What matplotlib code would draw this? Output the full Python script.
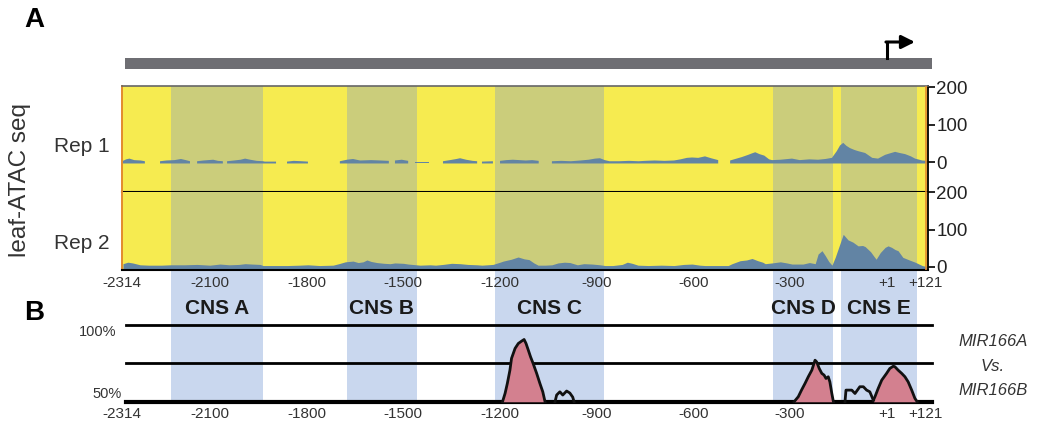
import matplotlib.pyplot as plt
import numpy as np

plt.rcParams['font.family'] = ['Liberation Sans', 'DejaVu Sans']

nan = np.nan

# promoter coordinates (bp relative to TSS)
x_left, x_right = -2373, 128
x_right_b = 141
tss = 1
tick_pos = [-2373, -2100, -1800, -1500, -1200, -900, -600, -300, 1, 121]
tick_lab = ['-2314', '-2100', '-1800', '-1500', '-1200', '-900', '-600', '-300', '+1', '+121']

# conserved non-coding sequences
cns_names = ['CNS A', 'CNS B', 'CNS C', 'CNS D', 'CNS E']
cns_start = [-2221, -1675, -1215, -353, -142]
cns_end = [-1935, -1458, -877, -166, 94]

# leaf ATAC-seq coverage, replicate 1 (nan = no signal)
rep1_x = [-2370, -2360, -2350, -2335, -2315, -2302, -2290,
          -2255, -2235, -2210, -2190, -2175, -2162, -2150,
          -2140, -2120, -2090, -2075, -2060, -2053,
          -2047, -2025, -2005, -1991, -1975, -1955, -1935, -1930, -1895, -1878,
          -1861, -1840, -1815, -1796, -1780,
          -1697, -1675, -1656, -1640, -1634, -1600, -1570, -1545, -1535,
          -1526, -1505, -1485, -1475, -1465, -1420, -1405,
          -1377, -1355, -1335, -1324, -1305, -1285, -1271, -1263,
          -1256, -1222, -1212,
          -1200, -1180, -1160, -1140, -1120, -1100, -1080, -1065,
          -1039, -1010, -980, -950, -925, -905, -890, -875, -860, -830, -800,
          -770, -750, -720, -690, -660, -640, -620, -604, -585, -564, -545, -523, -505,
          -486, -470, -450, -430, -418, -408, -395, -380, -365, -356, -330, -294,
          -270, -240, -213, -190, -170, -155, -145, -135, -125, -114, -100, -89,
          -67, -45, -27, -5, 10, 26, 40, 57, 75, 88, 110, 125]
rep1_y = [4, 8, 10, 6, 5, 3, nan,
          3, 5, 6, 9, 6, 3, nan,
          3, 5, 7, 4, 3, nan,
          3, 5, 7, 10, 7, 4, 3, 2, 2, nan,
          2, 4, 3, 2, nan,
          3, 7, 9, 6, 5, 6, 5, 4, nan,
          5, 7, 4, nan, 2, 2, nan,
          3, 6, 9, 11, 7, 4, 3, nan,
          2, 3, nan,
          4, 6, 7, 6, 5, 6, 4, nan,
          3, 4, 3, 5, 7, 10, 11, 6, 3, 3, 4,
          3, 4, 5, 4, 5, 8, 12, 13, 12, 16, 11, 6, nan,
          5, 9, 14, 20, 24, 27, 22, 18, 8, 6, 7, 10,
          6, 8, 7, 9, 12, 30, 45, 52, 44, 38, 33, 30,
          25, 12, 10, 20, 24, 28, 25, 22, 16, 10, 5, 4]

# leaf ATAC-seq coverage, replicate 2
rep2_x = [-2370, -2355, -2340, -2317, -2290, -2250, -2224, -2180, -2140, -2100,
          -2069, -2040, -2010, -1991, -1970, -1945, -1935, -1900, -1860, -1821,
          -1796, -1760, -1718, -1700, -1680, -1656, -1640, -1625, -1613, -1600,
          -1582, -1560, -1541, -1526, -1500, -1485, -1460, -1448, -1417, -1400,
          -1377, -1350, -1324, -1300, -1271, -1256, -1222, -1200, -1190, -1165,
          -1144, -1125, -1110, -1095, -1082, -1060, -1039, -1020, -1000, -983,
          -960, -940, -914, -890, -874, -850, -821, -805, -790, -772,
          -740, -700, -660, -630, -604, -580, -564, -523, -492, -480,
          -455, -435, -418, -400, -385, -377, -356, -330, -310, -294,
          -260, -240, -222, -213, -201, -191, -180, -170, -160, -150,
          -135, -120, -105, -89, -75, -67, -50, -40, -33, -20,
          -5, 4, 15, 26, 35, 50, 70, 88, 110, 125]
rep2_y = [8, 12, 10, 5, 4, 4, 5, 5, 6, 4,
          7, 5, 6, 8, 7, 6, 3, 3, 3, 4,
          5, 3, 4, 8, 13, 15, 11, 13, 18, 14,
          11, 9, 8, 10, 9, 7, 5, 4, 5, 4,
          6, 9, 8, 6, 5, 4, 6, 12, 15, 20,
          26, 21, 19, 10, 4, 4, 5, 10, 12, 11,
          5, 8, 7, 5, 3, 3, 6, 12, 9, 4,
          3, 4, 3, 6, 7, 4, 3, 3, 3, 8,
          16, 18, 22, 16, 12, 8, 10, 13, 10, 7,
          7, 11, 8, 34, 43, 30, 14, 4, 25, 50,
          87, 72, 66, 56, 57, 54, 40, 28, 20, 38,
          52, 56, 52, 46, 43, 25, 18, 12, 3, 0]

# VISTA identity, MIR166A vs MIR166B (%)
peakC_x = [-1192, -1184, -1177, -1169, -1164, -1153, -1143, -1133, -1125,
           -1119, -1112, -1105, -1097, -1086, -1076, -1067, -1060]
peakC_y = [50, 55.5, 62, 70.6, 78.3, 84.8, 88, 89.5, 90.6,
           88, 83.7, 79.3, 75, 68.5, 62, 56.5, 50]
bumpC_x = [-1029, -1024, -1014, -1005, -993, -983, -974, -970]
bumpC_y = [50, 54.4, 56.5, 54.4, 57, 55.7, 53, 50]
peakD_x = [-287, -274, -264, -253, -243, -232, -222, -217, -209, -201,
           -194, -188, -181, -176, -170, -165]
peakD_y = [50, 53.3, 57.6, 62, 66.3, 70.6, 77.1, 76, 71.7, 68.5,
           67.4, 65.2, 66.3, 63, 55.5, 50]
bumpE_x = [-129, -126, -108, -98, -83, -72, -62, -52, -41]
bumpE_y = [50, 57.6, 57.6, 55.4, 59.8, 59.8, 57.6, 56.5, 51]
peakE_x = [-41, -36, -26, -15, 0, 10, 21, 26, 36, 47, 57, 67, 78, 88, 95]
peakE_y = [51, 53.3, 58.7, 64.1, 68.5, 71.7, 73.2, 72.8, 70.6, 68.5,
           66.3, 63, 57.6, 52.2, 50]
identity_lines = [100, 75, 50]

yellow = '#F6EB50'
olive = '#CBCD7B'
track_blue = '#6284A4'
band_blue = '#C9D7EE'
pink = '#D3808F'
bar_gray = '#6E6E73'
edge_orange = '#E38A2E'

fig = plt.figure(figsize=(10.41, 4.23), dpi=100)
W, H = 1041.0, 423.0

def box(l, t, r, b):
    return [l / W, 1 - b / H, (r - l) / W, (b - t) / H]

# gene model with TSS arrow
axg = fig.add_axes(box(122, 30, 932, 75))
axg.set_xlim(x_left, x_right_b)
axg.set_ylim(0, 45)
axg.axis('off')
axg.fill_between([-2363, x_right_b], 6, 17, color=bar_gray, lw=0)
axg.plot([tss, tss], [17, 33], color='black', lw=2.2, solid_capstyle='projecting')
axg.annotate('', xy=(88, 33), xytext=(tss - 3, 33),
             arrowprops=dict(arrowstyle='-|>', lw=2.2, color='black',
                             mutation_scale=20, shrinkA=0, shrinkB=0))

# panel B (drawn below panel A)
axb = fig.add_axes(box(122, 270, 932, 403))
axb.set_zorder(0)
axb.set_xlim(x_left, x_right_b)
axb.set_ylim(49.2, 135.9)
for s, e, name in zip(cns_start, cns_end, cns_names):
    axb.axvspan(s, e, color=band_blue, lw=0, zorder=0)
    axb.text((s + e) / 2, 111, name, ha='center', va='center',
             fontsize=15, fontweight='bold', color='#1a1a1a')
for lvl in identity_lines:
    axb.plot([-2360, x_right_b], [lvl, lvl], color='black',
             lw=3 if lvl == 50 else 2, zorder=2, clip_on=False)
for px, py in [(peakC_x, peakC_y), (peakD_x, peakD_y), (peakE_x, peakE_y)]:
    axb.fill_between(px, 50, py, color=pink, lw=0, zorder=3)
    axb.plot(px, py, color='#111111', lw=2, zorder=4, solid_joinstyle='round')
for px, py in [(bumpC_x, bumpC_y), (bumpE_x, bumpE_y)]:
    axb.plot(px, py, color='#111111', lw=2, zorder=4, solid_joinstyle='round')
axb.text(-2390, 100, '100%', ha='right', va='top', fontsize=10.5, color='#333333')
axb.text(-2375, 50.3, '50%', ha='right', va='bottom', fontsize=10.5, color='#333333')
axb.set_yticks([])
axb.set_xticks(tick_pos)
axb.set_xticklabels(tick_lab, fontsize=11, color='#333333')
axb.tick_params(axis='x', length=0, pad=3)
for sp in axb.spines.values():
    sp.set_visible(False)

# panel A tracks
ax1 = fig.add_axes(box(122, 86, 928, 192))
ax2 = fig.add_axes(box(122, 192, 928, 270))
ax1.set_ylim(-79, 203.5)
ax2.set_ylim(-9, 201)
for ax, tx, ty, base in [(ax1, rep1_x, rep1_y, -3), (ax2, rep2_x, rep2_y, -9)]:
    ax.set_zorder(2)
    ax.set_xlim(x_left, x_right)
    ax.set_facecolor(yellow)
    for s, e in zip(cns_start, cns_end):
        ax.axvspan(s, e, color=olive, lw=0, zorder=0)
    ax.fill_between(tx, base, ty, color=track_blue, lw=0, zorder=2)
    ax.axvline(x_right - 5, color=edge_orange, lw=1.2, zorder=3)
    ax.yaxis.tick_right()
    ax.set_yticks([0, 100, 200])
    ax.set_yticklabels(['0', '100', '200'], fontsize=13.5, color='#222222')
    ax.tick_params(axis='y', direction='out', length=5, width=1.2, pad=1)
    ax.spines['left'].set_color(edge_orange)
    ax.spines['left'].set_linewidth(1.4)
    ax.spines['right'].set_color('black')
    ax.spines['right'].set_linewidth(1.3)
ax1.spines['top'].set_color('#666666')
ax1.spines['top'].set_linewidth(1.2)
ax1.spines['bottom'].set_color('black')
ax1.spines['bottom'].set_linewidth(1.5)
ax1.set_xticks([])
ax2.spines['top'].set_visible(False)
ax2.spines['bottom'].set_color('black')
ax2.spines['bottom'].set_linewidth(1.5)
ax2.set_xticks(tick_pos)
ax2.set_xticklabels(tick_lab, fontsize=11, color='#333333')
ax2.tick_params(axis='x', length=0, pad=4)

# labels
fig.text(34 / W, 1 - 20 / H, 'A', fontsize=20, fontweight='bold', ha='center', va='center')
fig.text(34 / W, 1 - 313 / H, 'B', fontsize=20, fontweight='bold', ha='center', va='center')
fig.text(20 / W, 1 - 180 / H, 'leaf-ATAC seq', fontsize=17.5, rotation=90,
         ha='center', va='center', color='#333333')
fig.text(54 / W, 1 - 147 / H, 'Rep 1', fontsize=15, ha='left', va='center', color='#333333')
fig.text(54 / W, 1 - 243 / H, 'Rep 2', fontsize=15, ha='left', va='center', color='#333333')
for txt, yy in [('MIR166A', 341), ('Vs.', 366), ('MIR166B', 390)]:
    fig.text(993 / W, 1 - yy / H, txt, fontsize=12, style='italic',
             ha='center', va='center', color='#333333')

fig.savefig('out.png', dpi=100)
